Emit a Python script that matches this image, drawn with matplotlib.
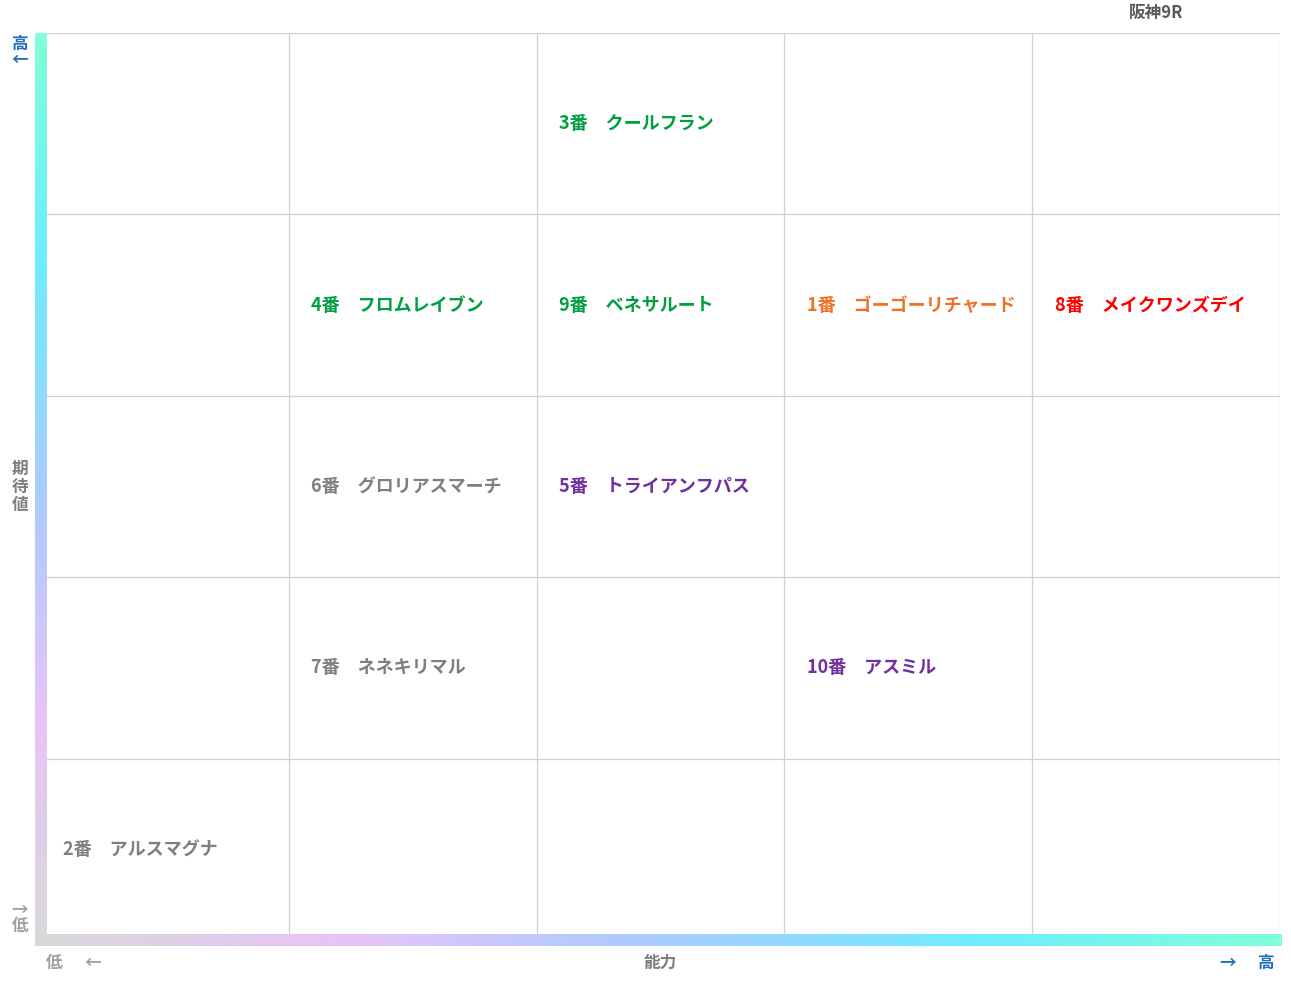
import numpy as np
from matplotlib import pyplot as plt
from matplotlib.colors import LinearSegmentedColormap

plt.rcParams['font.family'] = ['Noto Sans CJK JP', 'DejaVu Sans']

names = ['3番　クールフラン', '4番　フロムレイブン', '9番　ベネサルート',
         '1番　ゴーゴーリチャード', '8番　メイクワンズデイ', '6番　グロリアスマーチ',
         '5番　トライアンフパス', '7番　ネネキリマル', '10番　アスミル', '2番　アルスマグナ']
ability = [3, 2, 3, 4, 5, 2, 3, 2, 4, 1]
expect = [5, 4, 4, 4, 4, 3, 3, 2, 2, 1]
colors = ['#00a040', '#00a040', '#00a040', '#f07028', '#ff0000', '#7f7f7f',
          '#7030a0', '#7f7f7f', '#7030a0', '#7f7f7f']

W, H = 1291, 983
fig = plt.figure(figsize=(W / 100, H / 100), dpi=100)

def fx(p): return p / W
def fy(p): return 1 - p / H

ax = fig.add_axes([fx(41), fy(940), fx(1280) - fx(41), fy(33) - fy(940)])
ax.set_xlim(0, 5)
ax.set_ylim(0, 5)
for v in range(1, 6):
    ax.axvline(v, color='#d0d0d0', lw=0.9)
    ax.axhline(v, color='#d0d0d0', lw=0.9)
ax.set_xticks([])
ax.set_yticks([])
for s in ax.spines.values():
    s.set_visible(False)

for n, a, e, c in zip(names, ability, expect, colors):
    ax.text(a - 1 + 0.09, e - 0.5, n, color=c, fontsize=13, fontweight='bold',
            va='center', ha='left')

cmap = LinearSegmentedColormap.from_list('g', ['#d8d8d8', '#e8c4f8', '#a8ccff', '#70ecff', '#80ffd8'])
grad = np.linspace(0, 1, 256)

vax = fig.add_axes([fx(35), fy(942), fx(12), fy(33) - fy(942)])
vax.imshow(grad[:, None], aspect='auto', cmap=cmap, origin='lower')
vax.axis('off')
hax = fig.add_axes([fx(35), fy(946), fx(1282) - fx(35), fx(0) + 12 / H])
hax.imshow(grad[None, :], aspect='auto', cmap=cmap)
hax.axis('off')

fig.text(fx(1156), fy(13), '阪神9R', color='#595959', fontsize=12, fontweight='bold', ha='center', va='center')
fig.text(fx(20), fy(52), '高\n←', color='#1f6fbf', fontsize=12, fontweight='bold', ha='center', va='center', linespacing=0.9)
fig.text(fx(20), fy(918), '→\n低', color='#a0a0a0', fontsize=12, fontweight='bold', ha='center', va='center', linespacing=0.9)
fig.text(fx(20), fy(487), '期\n待\n値', color='#7f7f7f', fontsize=12, fontweight='bold', ha='center', va='center', linespacing=1.0)
fig.text(fx(54), fy(963), '低', color='#a0a0a0', fontsize=12, fontweight='bold', ha='center', va='center')
fig.text(fx(93), fy(963), '←', color='#a0a0a0', fontsize=12, fontweight='bold', ha='center', va='center')
fig.text(fx(660), fy(963), '能力', color='#7f7f7f', fontsize=12, fontweight='bold', ha='center', va='center')
fig.text(fx(1228), fy(963), '→', color='#1f6fbf', fontsize=12, fontweight='bold', ha='center', va='center')
fig.text(fx(1266), fy(963), '高', color='#1f6fbf', fontsize=12, fontweight='bold', ha='center', va='center')

fig.savefig('out.png', dpi=100)
